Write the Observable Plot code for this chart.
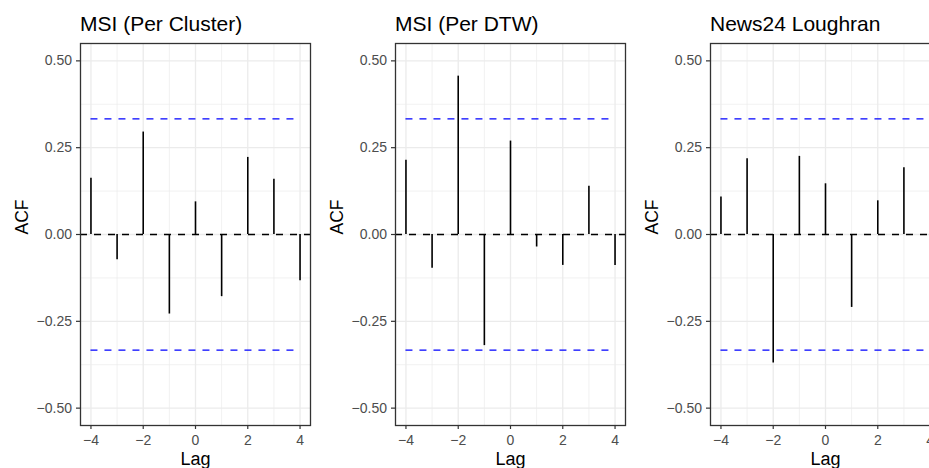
<!DOCTYPE html>
<html>
<head>
<meta charset="utf-8">
<script src="https://cdn.jsdelivr.net/npm/d3@7"></script>
<script src="https://cdn.jsdelivr.net/npm/@observablehq/plot@0.6"></script>
<style>
  html, body { margin: 0; padding: 0; background: #ffffff; }
  #chart { position: relative; width: 929px; height: 468px; overflow: hidden; background: #ffffff;
           font-family: "Liberation Sans", Arial, Helvetica, sans-serif; }
  .panel { position: absolute; top: 0; }
  .ptitle { position: absolute; top: 13px; font-size: 21px; line-height: 21px; color: #000; white-space: nowrap; }
  .panel svg { position: absolute; left: 0; top: 0; }
</style>
</head>
<body>
<div id="chart"></div>
<script>
// ---- data ----
const lags = [-4, -3, -2, -1, 0, 1, 2, 3, 4];
const acfCluster = [0.162, -0.073, 0.295, -0.229, 0.094, -0.179, 0.222, 0.159, -0.133];
const acfDTW     = [0.214, -0.097, 0.456, -0.320, 0.269, -0.036, -0.089, 0.139, -0.089];
const acfNews24  = [0.108, 0.218, -0.370, 0.225, 0.146, -0.210, 0.097, 0.192, -0.246];
const ciBound = 0.333;
const panelTitles = ["MSI (Per Cluster)", "MSI (Per DTW)", "News24 Loughran"];
const xTicks = [-4, -2, 0, 2, 4];
const xMinor = [-3, -1, 1, 3];
const yTicks = [-0.5, -0.25, 0, 0.25, 0.5];
const yMinor = [-0.375, -0.125, 0.125, 0.375];
const xLabel = "Lag";
const yLabel = "ACF";

// ---- layout ----
const boxLefts = [80, 395, 710];
const boxWidth = 230;
const mL = 80, mR = 2, mT = 43, mB = 43, H = 468;
const font = '"Liberation Sans", Arial, Helvetica, sans-serif';
const grid = "#EBEBEB";
const dark = "#333333";
const tickText = "#4D4D4D";

function panel(values, title, left) {
  const data = lags.map((l, i) => ({lag: l, acf: values[i]}));
  const ci = [ciBound, -ciBound];
  const svg = Plot.plot({
    width: mL + boxWidth + mR,
    height: H,
    marginLeft: mL, marginRight: mR, marginTop: mT, marginBottom: mB,
    style: {fontFamily: font, background: "transparent", overflow: "visible"},
    x: {domain: [-4.4, 4.4]},
    y: {domain: [-0.55, 0.55]},
    marks: [
      Plot.ruleX(xMinor, {stroke: grid, strokeWidth: 0.7}),
      Plot.ruleY(yMinor, {stroke: grid, strokeWidth: 0.7}),
      Plot.ruleX(xTicks, {stroke: grid, strokeWidth: 1.3}),
      Plot.ruleY(yTicks, {stroke: grid, strokeWidth: 1.3}),
      Plot.ruleY([0], {stroke: "#000", strokeWidth: 1.3, strokeDasharray: "7,7"}),
      Plot.ruleY(ci, {x1: lags[0], x2: lags[lags.length - 1], stroke: "#0000FF", strokeWidth: 1.3, strokeDasharray: "7,7"}),
      Plot.ruleX(data, {x: "lag", y1: 0, y2: "acf", stroke: "#000", strokeWidth: 1.6}),
      Plot.frame({stroke: dark, strokeWidth: 1.3}),
      Plot.axisX({ticks: xTicks, tickSize: 4, tickPadding: 6, stroke: dark, strokeWidth: 1.2,
                  fill: tickText, fontSize: 14, label: null, tickFormat: d3.format("d")}),
      Plot.axisY({ticks: yTicks, tickSize: 4, tickPadding: 4.5, stroke: dark, strokeWidth: 1.2,
                  fill: tickText, fontSize: 14, label: null, tickFormat: d3.format(".2f")}),
      Plot.text([xLabel], {frameAnchor: "bottom", lineAnchor: "top", dy: 26.5, fontSize: 18, fill: "#000"}),
      Plot.text([yLabel], {frameAnchor: "left", rotate: -90, lineAnchor: "top", dx: -65, fontSize: 17.5, fill: "#000"})
    ]
  });
  const wrap = document.createElement("div");
  wrap.className = "panel";
  wrap.style.left = (left - mL) + "px";
  wrap.style.width = (mL + boxWidth + mR) + "px";
  wrap.style.height = H + "px";
  wrap.appendChild(svg);
  const t = document.createElement("div");
  t.className = "ptitle";
  t.style.left = mL + "px";
  t.textContent = title;
  wrap.appendChild(t);
  return wrap;
}

const chart = document.getElementById("chart");
const series = [acfCluster, acfDTW, acfNews24];
series.forEach((vals, i) => chart.appendChild(panel(vals, panelTitles[i], boxLefts[i])));
</script>
</body>
</html>
